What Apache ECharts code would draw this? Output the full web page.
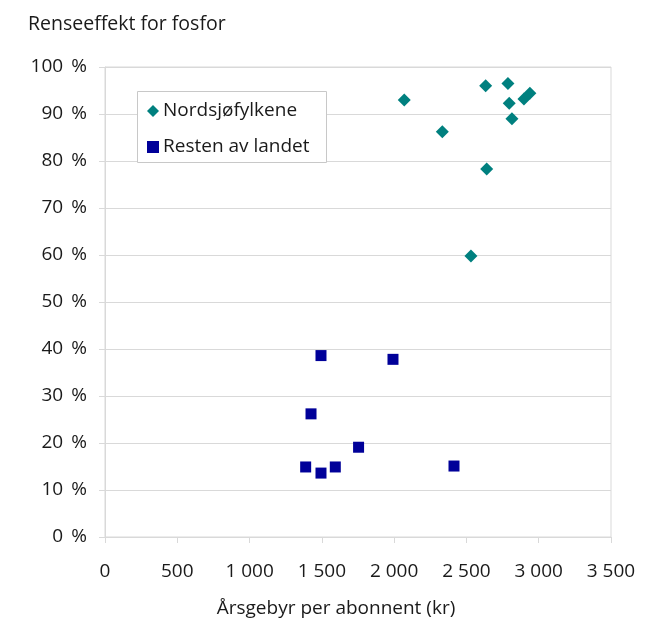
<!DOCTYPE html>
<html>
<head>
<meta charset="utf-8">
<script src="https://cdn.jsdelivr.net/npm/echarts@6/dist/echarts.min.js"></script>
<style>
  html, body { margin: 0; padding: 0; background: #fff; }
  #chart { width: 648px; height: 626px; }
</style>
</head>
<body>
<div id="chart"></div>
<script>
// Annual fee per subscriber (kr) vs. phosphorus removal efficiency (%)
const nordsjoFee = [2070, 2633, 2787, 2796, 2815, 2333, 2640, 2531, 2898, 2939];
const nordsjoEff = [93.0, 96.0, 96.5, 92.3, 89.0, 86.2, 78.3, 59.8, 93.2, 94.4];

const restenFee = [1494, 1992, 1425, 1754, 1388, 1494, 1593, 2414];
const restenEff = [38.6, 37.8, 26.2, 19.1, 14.9, 13.6, 14.9, 15.1];

const seriesNames = ['Nordsjøfylkene', 'Resten av landet'];
const xTicks = [0, 500, 1000, 1500, 2000, 2500, 3000, 3500];
const yTicks = [0, 10, 20, 30, 40, 50, 60, 70, 80, 90, 100];

const font = 'Open Sans';
const fontSize = 19;
const textColor = '#1a1a1a';
const lineColor = '#d9d9d9';

function pairs(xs, ys) { return xs.map((x, i) => [x, ys[i]]); }
function thousands(v) { return String(v).replace(/\B(?=(\d{3})+(?!\d))/g, ' '); }

const chart = echarts.init(document.getElementById('chart'));
chart.setOption({
  animation: false,
  backgroundColor: '#fff',
  title: {
    text: 'Renseeffekt for fosfor',
    left: 23, top: 9,
    textStyle: { fontFamily: font, fontSize: 19.5, fontWeight: 'normal', color: textColor }
  },
  grid: { left: 105, right: 37, top: 67, bottom: 89, show: true, borderColor: lineColor, borderWidth: 1 },
  // legend frame
  graphic: [{
    type: 'rect', left: 137, top: 91, z: 10,
    shape: { width: 189, height: 71 },
    style: { fill: '#fff', stroke: '#c8c8c8', lineWidth: 1 }
  }],
  legend: {
    orient: 'vertical',
    left: 137, top: 91,
    padding: [10, 8, 6, 10],
    itemGap: 16,
    itemWidth: 12, itemHeight: 12,
    z: 20,
    textStyle: { fontFamily: font, fontSize: fontSize, lineHeight: 20, color: textColor, padding: [0, 0, 0, -1] },
    data: [
      { name: seriesNames[0], icon: 'diamond' },
      { name: seriesNames[1], icon: 'rect' }
    ]
  },
  xAxis: {
    type: 'value',
    min: xTicks[0], max: xTicks[xTicks.length - 1], interval: 500,
    name: 'Årsgebyr per abonnent (kr)',
    nameLocation: 'middle', nameGap: 62,
    nameTextStyle: { fontFamily: font, fontSize: fontSize, color: textColor, padding: [0, 44, 0, 0] },
    axisLine: { show: true, lineStyle: { color: lineColor, width: 1 } },
    axisTick: { show: true, length: 6, lineStyle: { color: lineColor } },
    splitLine: { show: false },
    axisLabel: { fontFamily: font, fontSize: fontSize, color: textColor, margin: 25, formatter: v => thousands(v) }
  },
  yAxis: {
    type: 'value',
    min: yTicks[0], max: yTicks[yTicks.length - 1], interval: 10,
    axisLine: { show: true, lineStyle: { color: lineColor, width: 1 } },
    axisTick: { show: true, length: 6, lineStyle: { color: lineColor } },
    splitLine: { show: true, lineStyle: { color: lineColor, width: 1 } },
    axisLabel: { fontFamily: font, fontSize: fontSize, color: textColor, margin: 18, formatter: v => v + '\u2009 %' }
  },
  series: [
    {
      name: seriesNames[0], type: 'scatter', symbol: 'diamond', symbolSize: 13,
      itemStyle: { color: '#00807f', opacity: 1 },
      data: pairs(nordsjoFee, nordsjoEff)
    },
    {
      name: seriesNames[1], type: 'scatter', symbol: 'rect', symbolSize: 11,
      itemStyle: { color: '#000099', opacity: 1 },
      data: pairs(restenFee, restenEff)
    }
  ]
});
</script>
</body>
</html>
